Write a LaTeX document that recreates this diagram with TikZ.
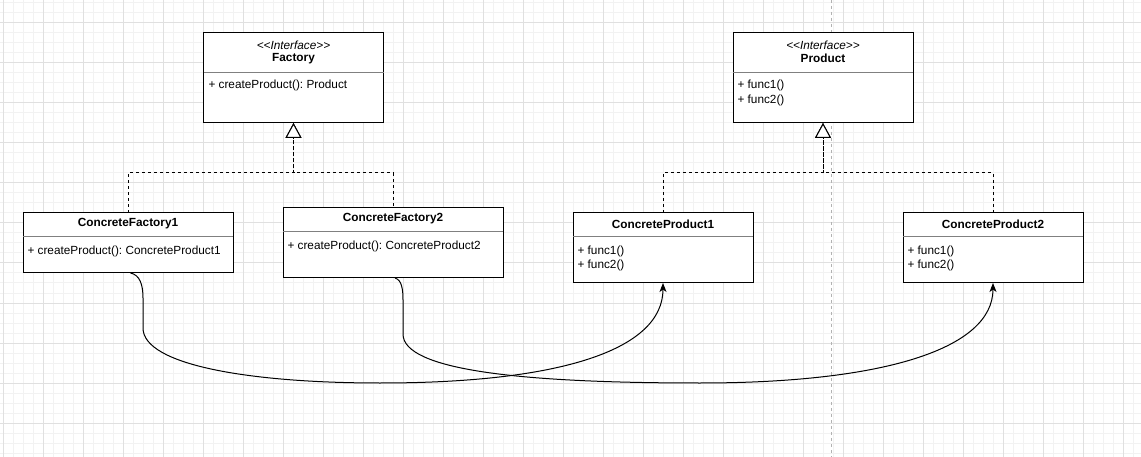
\documentclass[tikz,border=0pt]{standalone}
\usepackage{fontspec}
\setmainfont{Liberation Sans}
\usetikzlibrary{arrows.meta}
\frenchspacing

\begin{document}
\begin{tikzpicture}[
    x=1pt, y=-1pt,
    line width=1pt,
    font=\fontsize{11.8}{14.5}\selectfont,
    class box/.style={draw=black, fill=white, inner sep=0pt, outer sep=0pt},
    class name/.style={font=\fontsize{11.8}{14.5}\selectfont\bfseries, inner sep=0pt},
    stereotype/.style={font=\fontsize{11.8}{14.5}\selectfont\itshape, inner sep=0pt},
    member/.style={anchor=west, align=left, inner sep=0pt},
    divider/.style={draw=black!50},
    realize/.style={dash pattern=on 3pt off 3pt,
      -{Triangle[length=15pt,width=16pt,fill=white]}},
    uses/.style={-{Stealth[length=9pt,width=7pt,inset=2.5pt]}}
  ]

    % 0. Grid
    \fill[white] (0,0) rectangle (1141,457);
    \useasboundingbox (0,0) rectangle (1141,457);
    \foreach \gx in {3,13,...,1133} {
        \draw[black!5] (\gx,0) -- (\gx,457);
    }
    \foreach \gy in {3,13,...,453} {
        \draw[black!5] (0,\gy) -- (1141,\gy);
    }
    \foreach \gx in {3,43,...,1123} {
        \draw[black!12] (\gx,0) -- (\gx,457);
    }
    \foreach \gy in {23,63,...,443} {
        \draw[black!12] (0,\gy) -- (1141,\gy);
    }
    \draw[black!30, dash pattern=on 3pt off 3pt] (831,0) -- (831,457);

    % 1. Classes
    \node[class box, minimum width=180, minimum height=90] (factory) at (293.5,78) {};
    \node[class box, minimum width=180, minimum height=90] (product) at (823,78) {};
    \node[class box, minimum width=210, minimum height=60] (cf1) at (128,243) {};
    \node[class box, minimum width=220, minimum height=70] (cf2) at (393,243) {};
    \node[class box, minimum width=180, minimum height=70] (cp1) at (663,248) {};
    \node[class box, minimum width=180, minimum height=70] (cp2) at (993,248) {};

    \foreach \cls/\dy in {factory/40, product/40, cf1/24, cf2/24, cp1/24, cp2/24} {
        \draw[divider] ([yshift=-\dy pt]\cls.north west) -- ([yshift=-\dy pt]\cls.north east);
    }

    % 2. Texts
    \node[stereotype] (factory stereo) at (293.5,45) {<\kern0pt<Interface>\kern0pt>};
    \node[class name] (factory name) at (293.5,58.5) {Factory};
    \node[member] (factory ops) at (208,85) {+ createProduct(): Product};

    \node[stereotype] (product stereo) at (823,45) {<\kern0pt<Interface>\kern0pt>};
    \node[class name] (product name) at (823,58.5) {Product};
    \node[member] (product ops) at (737,93) {+ func1()\\+ func2()};

    \node[class name] (cf1 name) at (128,224) {ConcreteFactory1};
    \node[member] (cf1 ops) at (27,251) {+ createProduct(): ConcreteProduct1};

    \node[class name] (cf2 name) at (393,219) {ConcreteFactory2};
    \node[member] (cf2 ops) at (287,246) {+ createProduct(): ConcreteProduct2};

    \node[class name] (cp1 name) at (663,224) {ConcreteProduct1};
    \node[member] (cp1 ops) at (577,258.5) {+ func1()\\+ func2()};

    \node[class name] (cp2 name) at (993,224) {ConcreteProduct2};
    \node[member] (cp2 ops) at (907,258.5) {+ func1()\\+ func2()};

    % 3. Realizations
    \coordinate (fbus) at (293.5,173);
    \coordinate (pbus) at (823,173);
    \draw[realize] (cf1.north) |- (fbus) -- (factory.south);
    \draw[realize, dash phase=4pt] (cf2.north) |- (fbus) -- (factory.south);
    \draw[realize] (cp1.north) |- (pbus) -- (product.south);
    \draw[realize] (cp2.north) |- (pbus) -- (product.south);

    % 4. Creates
    \draw[uses] ([xshift=2.5pt]cf1.south) .. controls (140,275) and (143,285) .. (143,298)
        -- (143,328) .. controls (143,365) and (250,383) .. (380,383)
        .. controls (560,383) and (663,350) .. (cp1.south);
    \draw[uses] ([xshift=2pt]cf2.south) .. controls (402,280) and (403,290) .. (403,300)
        -- (403,334) .. controls (403,370) and (520,383) .. (700,383)
        .. controls (880,383) and (993,350) .. (cp2.south);

  \end{tikzpicture}
\end{document}
